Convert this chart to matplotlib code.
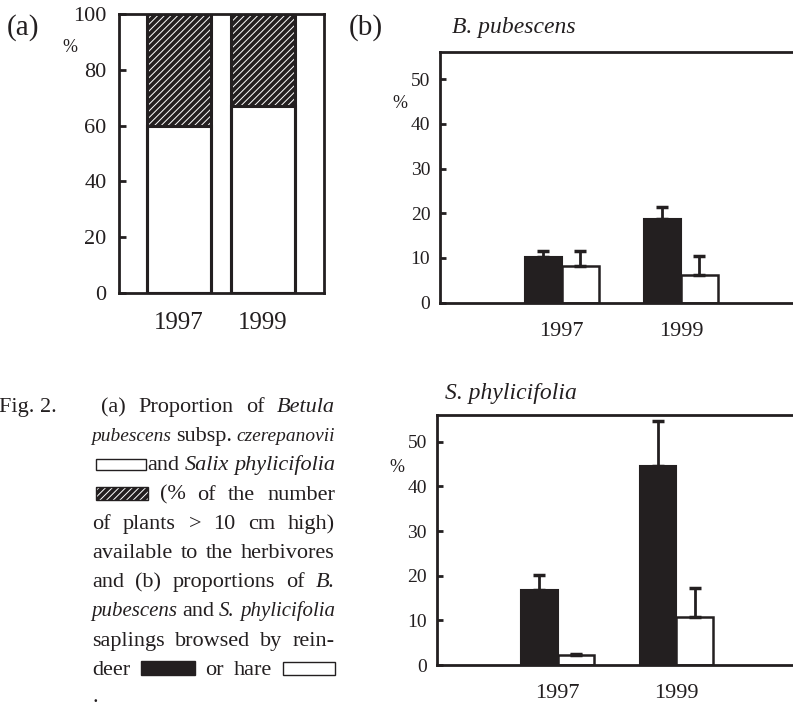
import matplotlib
matplotlib.use('Agg')
import matplotlib.pyplot as plt
from matplotlib.patches import Rectangle
import numpy as np

plt.rcParams['font.family'] = ['Liberation Serif', 'DejaVu Serif']
plt.rcParams['hatch.linewidth'] = 0.7

# ---------------- data ----------------
years = ['1997', '1999']

# (a) availability (% of plants > 10 cm high)
betula_avail = [60, 67]
salix_avail = [40, 33]
avail_ticks = [0, 20, 40, 60, 80, 100]

# (b) proportion of saplings browsed (%)
bp_reindeer = [10.2, 18.7]
bp_reindeer_err = [1.3, 2.7]
bp_hare = [8.1, 6.3]
bp_hare_err = [3.5, 4.1]

sp_reindeer = [16.9, 44.6]
sp_reindeer_err = [3.2, 10.0]
sp_hare = [2.2, 10.8]
sp_hare_err = [0.2, 6.4]

browse_ticks = [0, 10, 20, 30, 40, 50]

K = '#231f20'
W, H = 793, 706

fig = plt.figure(figsize=(W / 100, H / 100), dpi=100)
fig.patch.set_facecolor('white')


def frac_rect(left, top, right, bottom):
    return [left / W, 1 - bottom / H, (right - left) / W, (bottom - top) / H]


# ---------------- panel (a) ----------------
axa = fig.add_axes(frac_rect(119, 14, 324, 293))
xa = np.arange(len(years))
wa = 0.76
totals = [b + s for b, s in zip(betula_avail, salix_avail)]
axa.bar(xa, betula_avail, width=wa, color='white', edgecolor=K, linewidth=0, zorder=2)
axa.bar(xa, salix_avail, bottom=betula_avail, width=wa, color=K, edgecolor='white',
        hatch='/////', linewidth=0, zorder=2)
axa.bar(xa, betula_avail, width=wa, fill=False, edgecolor=K, linewidth=2.2, zorder=3)
axa.bar(xa, totals, width=wa, fill=False, edgecolor=K, linewidth=2.2, zorder=3)
axa.set_xlim(-0.708, 1.724)
axa.set_ylim(0, 100)
axa.set_yticks(avail_ticks)
axa.set_xticks(xa)
axa.set_xticklabels(years)
for s in axa.spines.values():
    s.set_linewidth(2.0)
    s.set_color(K)
axa.tick_params(axis='y', direction='in', length=5, width=2, labelsize=16, pad=9, colors=K)
axa.tick_params(axis='x', direction='in', length=3, width=2, labelsize=18, pad=14, colors=K)

fig.text(23 / W, 1 - 28 / H, '(a)', fontsize=21, ha='center', va='center', color=K)
fig.text(70 / W, 1 - 47 / H, '%', fontsize=13, ha='center', va='center', color=K)


# ---------------- panel (b) ----------------
def browse_panel(rect, reindeer, rerr, hare, herr, xlim):
    ax = fig.add_axes(rect)
    x = np.arange(len(years))
    w = 0.31
    ax.bar(x - w / 2, reindeer, w, color=K, edgecolor=K, linewidth=1.5, zorder=2)
    ax.bar(x + w / 2, hare, w, color='white', edgecolor=K, linewidth=1.8, zorder=2)
    ax.errorbar(x - w / 2, reindeer, yerr=[np.zeros(len(x)), rerr], fmt='none',
                ecolor=K, elinewidth=2, capsize=4, capthick=2.5, zorder=3)
    ax.errorbar(x + w / 2, hare, yerr=[np.zeros(len(x)), herr], fmt='none',
                ecolor=K, elinewidth=2, capsize=4, capthick=2.5, zorder=3)
    ax.set_xlim(*xlim)
    ax.set_ylim(0, 56)
    ax.set_yticks(browse_ticks)
    ax.set_xticks(x)
    ax.set_xticklabels(years)
    for name, s in ax.spines.items():
        s.set_linewidth(2.0)
        s.set_color(K)
    ax.spines['right'].set_visible(False)
    ax.tick_params(axis='y', direction='in', length=4, width=2, labelsize=14, pad=7, colors=K)
    ax.tick_params(axis='x', length=0, labelsize=16, pad=14, colors=K)
    return ax


browse_panel(frac_rect(440, 52.3, 793, 302.7), bp_reindeer, bp_reindeer_err,
             bp_hare, bp_hare_err, (-1.02, 1.94))
browse_panel(frac_rect(436.7, 415, 793, 665), sp_reindeer, sp_reindeer_err,
             sp_hare, sp_hare_err, (-1.017, 1.98))

fig.text(366 / W, 1 - 28 / H, '(b)', fontsize=21, ha='center', va='center', color=K)
fig.text(452 / W, 1 - 28 / H, 'B. pubescens', fontsize=17, style='italic',
         ha='left', va='center', color=K)
fig.text(445 / W, 1 - 393 / H, 'S. phylicifolia', fontsize=17, style='italic',
         ha='left', va='center', color=K)
fig.text(400 / W, 1 - 103 / H, '%', fontsize=13, ha='center', va='center', color=K)
fig.text(397 / W, 1 - 468 / H, '%', fontsize=13, ha='center', va='center', color=K)

# ---------------- caption ----------------
CFS = 16
MIN_GAP = 5.0
renderer = fig.canvas.get_renderer()


def caption_line(baseline, items, x0, x1, justify=True):
    objs = []
    for it in items:
        if it[0] == 't':
            t = fig.text(0, 1 - baseline / H, it[1], fontsize=CFS, style=it[2],
                         ha='left', va='baseline', color=K)
            objs.append(['t', t, t.get_window_extent(renderer).width, it[3], it[2]])
        else:
            objs.append(['b', it, it[1], it[5], None])
    attach = 1.5
    ngaps = sum(1 for o in objs[1:] if not o[3])
    n_att = sum(1 for o in objs[1:] if o[3])
    avail = x1 - x0 - n_att * attach
    if justify and ngaps:
        total = sum(o[2] for o in objs)
        if total + ngaps * MIN_GAP > avail:
            ital = sum(o[2] for o in objs if o[4] == 'italic')
            fixed = total - ital
            f = (avail - ngaps * MIN_GAP - fixed) / ital
            for o in objs:
                if o[4] == 'italic':
                    o[1].set_fontsize(CFS * f)
                    o[2] = o[1].get_window_extent(renderer).width
        total = sum(o[2] for o in objs)
        gap = (avail - total) / ngaps
    else:
        gap = 5.5
    x = x0
    for k, o in enumerate(objs):
        if k > 0:
            x += attach if o[3] else gap
        if o[0] == 't':
            o[1].set_x(x / W)
        else:
            _, bw, bh, fc, hatch, _ = o[1]
            r = Rectangle((x / W, 1 - baseline / H), bw / W, bh / H,
                          transform=fig.transFigure, facecolor=fc,
                          edgecolor='white' if hatch else K, hatch=hatch,
                          linewidth=0 if hatch else 1.0)
            fig.add_artist(r)
            if hatch:
                fig.add_artist(Rectangle((x / W, 1 - baseline / H), bw / W, bh / H,
                                         transform=fig.transFigure, fill=False,
                                         edgecolor=K, linewidth=1.0))
        x += o[2]


n, i = 'normal', 'italic'
base0, step = 412, 29.2
fig.text(-1 / W, 1 - base0 / H, 'Fig. 2.', fontsize=CFS, ha='left', va='baseline', color=K)
lines = [
    (101, [('t', '(a)', n, False), ('t', 'Proportion', n, False), ('t', 'of', n, False),
           ('t', 'Betula', i, False)]),
    (91, [('t', 'pubescens', i, False), ('t', 'subsp.', n, False), ('t', 'czerepanovii', i, False)]),
    (96, [('b', 50, 11, 'white', None, False), ('t', 'and', n, True), ('t', 'Salix', i, False),
          ('t', 'phylicifolia', i, False)]),
    (96, [('b', 52, 13, K, '/////', False), ('t', '(%', n, False), ('t', 'of', n, False),
          ('t', 'the', n, False), ('t', 'number', n, False)]),
    (92, [('t', w, n, False) for w in ['of', 'plants', '>', '10', 'cm', 'high)']]),
    (92, [('t', w, n, False) for w in ['available', 'to', 'the', 'herbivores']]),
    (92, [('t', 'and', n, False), ('t', '(b)', n, False), ('t', 'proportions', n, False),
          ('t', 'of', n, False), ('t', 'B.', i, False)]),
    (91, [('t', 'pubescens', i, False), ('t', 'and', n, False), ('t', 'S.', i, False),
          ('t', 'phylicifolia', i, False)]),
    (92, [('t', w, n, False) for w in ['saplings', 'browsed', 'by', 'rein-']]),
    (92, [('t', 'deer', n, False), ('b', 54, 14, K, None, False), ('t', 'or', n, False),
          ('t', 'hare', n, False), ('b', 52, 13, 'white', None, False)]),
]
for k, (x0, items) in enumerate(lines):
    caption_line(base0 + step * k, items, x0, 335)
caption_line(base0 + step * 10 - 2, [('t', '.', n, False)], 93, 335, justify=False)

fig.savefig('out.png', dpi=100, facecolor='white')
